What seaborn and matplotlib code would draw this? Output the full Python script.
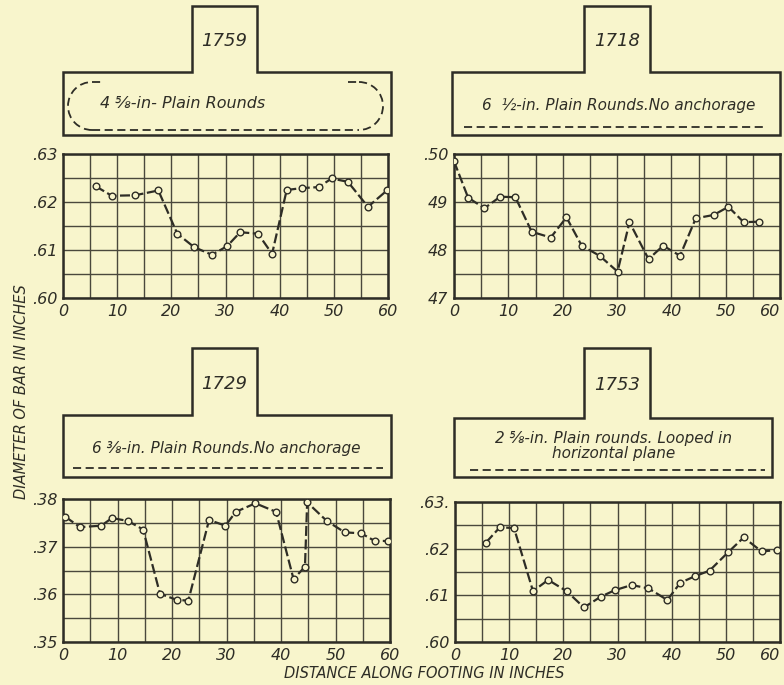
import matplotlib
matplotlib.use("Agg")
import matplotlib.pyplot as plt
from matplotlib.patches import Polygon, Arc
import pandas as pd
import seaborn as sns

# ---- data (distance in inches, diameter in inches)
x_1759 = [6, 9, 13.3, 17.6, 21.1, 24.2, 27.5, 30.3, 32.7, 36, 38.6, 41.3, 44.1, 47.2, 49.6, 52.6, 56.3, 59.8]
d_1759 = [0.6233, 0.6213, 0.6214, 0.6224, 0.6134, 0.6106, 0.6090, 0.6108, 0.6137, 0.6134, 0.6092,
          0.6225, 0.6229, 0.6231, 0.6249, 0.6242, 0.6190, 0.6224]

x_1718 = [0, 2.6, 5.6, 8.5, 11.3, 14.3, 17.8, 20.7, 23.5, 26.8, 30.1, 32.3, 35.8, 38.5, 41.6, 44.5,
          47.8, 50.5, 53.3, 56.2]
d_1718 = [0.4985, 0.4909, 0.4887, 0.4911, 0.4910, 0.4838, 0.4826, 0.4868, 0.4809, 0.4788, 0.4755,
          0.4858, 0.4781, 0.4809, 0.4788, 0.4866, 0.4873, 0.4890, 0.4858, 0.4859]

x_1729 = [0.4, 3.1, 7.0, 9.0, 11.9, 14.7, 17.8, 21.0, 23.0, 26.8, 29.8, 31.7, 35.3, 39.1, 42.3, 44.4,
          44.8, 48.4, 51.7, 54.7, 57.2, 59.7]
d_1729 = [0.3763, 0.3741, 0.3744, 0.3760, 0.3754, 0.3736, 0.3601, 0.3588, 0.3587, 0.3756, 0.3744,
          0.3773, 0.3791, 0.3773, 0.3632, 0.3658, 0.3793, 0.3754, 0.3730, 0.3728, 0.3712, 0.3712]

x_1753 = [5.7, 8.3, 10.9, 14.4, 17.2, 20.6, 23.8, 26.9, 29.5, 32.6, 35.7, 39.2, 41.6, 44.3, 47.0,
          50.4, 53.3, 56.6, 59.4]
d_1753 = [0.6213, 0.6246, 0.6244, 0.6109, 0.6133, 0.6109, 0.6074, 0.6097, 0.6111, 0.6122, 0.6115,
          0.6090, 0.6127, 0.6141, 0.6153, 0.6192, 0.6224, 0.6194, 0.6197]

specimens = ["1759", "1718", "1729", "1753"]
captions = ["4 \u215d-in- Plain Rounds",
            "6  \u00bd-in. Plain Rounds.No anchorage",
            "6 \u215c-in. Plain Rounds.No anchorage",
            "2 \u215d-in. Plain rounds. Looped in\nhorizontal plane"]
y_ranges = [(0.60, 0.63), (0.47, 0.50), (0.35, 0.38), (0.60, 0.63)]
y_labels = [[".60", ".61", ".62", ".63"],
            ["47", "48", "49", ".50"],
            [".35", ".36", ".37", ".38"],
            [".60", ".61", ".62", ".63."]]
x_ticks = [0, 10, 20, 30, 40, 50, 60]

BG = "#f8f5cc"
INK = "#2e2d26"
W, H = 784, 685

plt.rcParams["font.family"] = ["DejaVu Sans"]
plt.rcParams["font.style"] = "italic"

fig = plt.figure(figsize=(W / 100, H / 100), dpi=100, facecolor=BG)

# overlay in pixel units for the labelled boxes
deco = fig.add_axes([0, 0, 1, 1], zorder=0)
deco.set_xlim(0, W)
deco.set_ylim(H, 0)
deco.axis("off")


def frac(l, t, r, b):
    return [l / W, 1 - b / H, (r - l) / W, (b - t) / H]


panel_px = [(63, 154, 388, 298), (454, 154, 780, 298), (63, 499, 390, 642), (455, 502, 780, 642)]
# (box left, box top, box right, box bottom, tab left, tab right, tab top)
box_px = [(63, 72, 391, 135, 192, 257, 6), (452, 72, 780, 135, 584, 650, 6),
          (63, 415, 391, 477, 192, 257, 348), (454, 418, 772, 477, 584, 650, 348)]

series = [(x_1759, d_1759), (x_1718, d_1718), (x_1729, d_1729), (x_1753, d_1753)]

for i in range(4):
    ax = fig.add_axes(frac(*panel_px[i]), zorder=2)
    ax.set_facecolor(BG)
    xs, ds = series[i]
    df = pd.DataFrame({"dist": xs, "diam": ds})
    sns.lineplot(data=df, x="dist", y="diam", ax=ax, sort=False, estimator=None,
                 color=INK, lw=1.6, dashes=False, linestyle=(0, (4.5, 1.6)),
                 marker="o", markersize=4.8, markerfacecolor=BG,
                 markeredgecolor=INK, markeredgewidth=1.0, zorder=3)
    lo, hi = y_ranges[i]
    ax.set_xlim(0, 60)
    ax.set_ylim(lo, hi)
    ax.set_xticks(x_ticks)
    ax.set_xticks([5, 15, 25, 35, 45, 55], minor=True)
    ax.set_yticks([lo + k * 0.01 for k in range(4)])
    ax.set_yticks([lo + 0.005 + k * 0.01 for k in range(3)], minor=True)
    ax.set_xticklabels([str(t) for t in x_ticks])
    ax.set_yticklabels(y_labels[i])
    ax.grid(True, which="both", color="#4a483c", lw=1.0)
    ax.set_axisbelow(True)
    ax.tick_params(which="both", length=0, labelsize=11.5, colors=INK)
    ax.tick_params(axis="x", pad=4)
    ax.tick_params(axis="y", pad=4)
    if i in (1, 3):
        ax.get_xticklabels()[-1].set_ha("right")
    for s in ax.spines.values():
        s.set_color(INK)
        s.set_linewidth(1.8)
    ax.set_xlabel("")
    ax.set_ylabel("")

    # title box with tab
    l, t, r, b, tl, tr, tt = box_px[i]
    outline = [(l, b), (l, t), (tl, t), (tl, tt), (tr, tt), (tr, t), (r, t), (r, b)]
    deco.add_patch(Polygon(outline, closed=True, fill=False, ec=INK, lw=1.8))
    deco.text((tl + tr) / 2, (tt + t) / 2 + 2, specimens[i], ha="center", va="center",
              fontsize=13, color=INK)

# captions and dashed rules inside the boxes
deco.text(100, 103, captions[0], ha="left", va="center", fontsize=11.5, color=INK)
dash = dict(color=INK, lw=1.3, linestyle=(0, (4.5, 2.5)))
deco.plot([92, 359], [130, 130], **dash)
deco.plot([92, 104], [82, 82], **dash)
deco.plot([348, 359], [82, 82], **dash)
deco.add_patch(Arc((92, 106), 48, 48, theta1=90, theta2=270, ec=INK, lw=1.3, linestyle=(0, (4.5, 2.5))))
deco.add_patch(Arc((359, 106), 48, 48, theta1=-90, theta2=90, ec=INK, lw=1.3, linestyle=(0, (4.5, 2.5))))

deco.text(619, 105, captions[1], ha="center", va="center", fontsize=11, color=INK)
deco.plot([464, 767], [127, 127], **dash)

deco.text(226, 448, captions[2], ha="center", va="center", fontsize=11, color=INK)
deco.plot([73, 383], [468, 468], **dash)

deco.text(614, 446, captions[3], ha="center", va="center", fontsize=11, color=INK,
          linespacing=1.0)
deco.plot([470, 765], [470, 470], **dash)

# axis titles
deco.text(22, 392, "DIAMETER OF BAR IN INCHES", rotation=90, ha="center", va="center",
          fontsize=10.5, color=INK)
deco.text(424, 674, "DISTANCE ALONG FOOTING IN INCHES", ha="center", va="center",
          fontsize=10.5, color=INK)

fig.savefig("out.png", dpi=100, facecolor=BG)
